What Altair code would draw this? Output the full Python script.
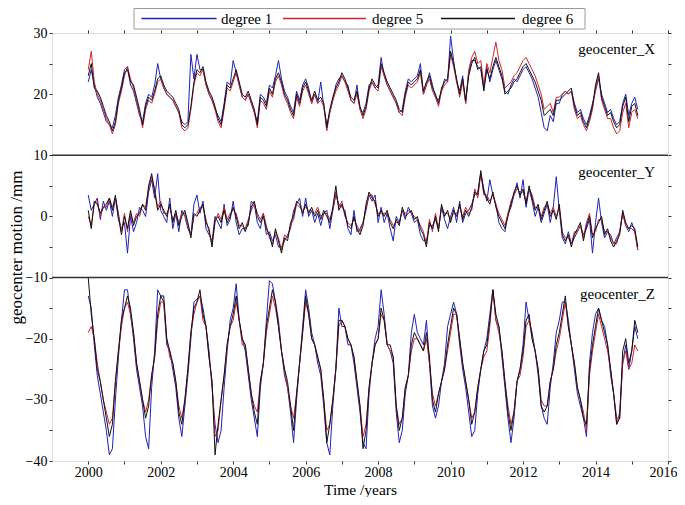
import altair as alt
import pandas as pd

# ---------------- data (monthly samples from 2000.0) ----------------
degrees = ["degree 1", "degree 5", "degree 6"]
colors = ["#1f22b8", "#d0232a", "#111111"]
panels = ["geocenter_X", "geocenter_Y", "geocenter_Z"]
start_year = 2000

x_deg1 = [22, 24, 21.5, 19.5, 18.5, 17, 15.5, 15, 14.5, 16.5, 19.5, 21.5,
          24, 24.5, 21.5, 20.5, 18.5, 16.5, 15.5, 18.5, 20, 19.5, 21.5, 25,
          22.5, 21, 20, 19.5, 19, 18, 17, 15.5, 15, 15.5, 26.5, 22.5,
          26.5, 24, 24, 21.5, 20, 19, 17.5, 16.5, 15.5, 18.5, 22, 21.5,
          25.5, 23.5, 21.5, 19.5, 19, 20, 18.5, 17, 15.5, 20, 19.5, 18.5,
          21.5, 21, 23, 25.5, 22.5, 20.5, 19.5, 18, 17, 20.5, 19, 21.5,
          22.5, 21, 18.5, 20, 18.5, 22, 18, 15, 17, 19, 21.5, 22.5,
          23, 22, 21.5, 19, 18.5, 21.5, 17.5, 17, 18.5, 21.5, 22, 21,
          21.5, 26, 23, 21.5, 20.5, 19.5, 18.5, 17, 17.5, 20.5, 22.5, 22,
          22.5, 23, 25, 20, 21.5, 23.5, 21.5, 19.5, 19, 20.5, 22.5, 22,
          29.5, 25.5, 22, 20.5, 23, 18.5, 23.5, 25.5, 25.5, 24.5, 24, 21,
          24.5, 22, 24, 25.5, 24, 22.5, 20.5, 20, 21.5, 22.5, 22, 23,
          24, 24.5, 23.5, 22.5, 21, 19.5, 17, 14.5, 14, 16.5, 15.5, 18.5,
          18.5, 20, 20.5, 20, 20.5, 18.5, 17, 17.5, 16, 15, 16.5, 18.5,
          20.5, 22.5, 20, 18.5, 17, 17.5, 16, 15, 15.5, 18.5, 20, 16.5,
          18.5, 19.5, 17.5]
x_deg5 = [24, 27, 22, 20, 19, 17.5, 16, 15, 13.5, 15, 18.5, 20.5,
          23, 24.5, 22.5, 21, 19, 17, 14.5, 17.5, 19, 18.5, 20, 22,
          22.5, 21, 20, 19.5, 19, 18, 17, 14.5, 14, 14.5, 17.5, 21.5,
          23.5, 23, 24, 21.5, 20, 19, 17.5, 15.5, 14.5, 17.5, 21, 20.5,
          22, 23.5, 21.5, 19.5, 19, 20, 18.5, 17, 14.5, 19, 18.5, 17.5,
          20.5, 19.5, 22, 23, 21.5, 19.5, 18.5, 17, 16, 19.5, 18, 20.5,
          21.5, 20, 18.5, 20, 18.5, 19, 18, 14, 17, 19, 20.5, 21.5,
          23, 22, 20.5, 19, 18.5, 20, 17.5, 16, 17.5, 20.5, 22, 21,
          20.5, 24.5, 23, 21.5, 20.5, 19.5, 18.5, 17, 16.5, 19.5, 21.5, 21,
          21.5, 22, 23.5, 20, 21.5, 22.5, 20.5, 19.5, 18, 20.5, 21.5, 22,
          26.5, 24.5, 22, 19.5, 22, 18.5, 24, 26, 27, 25, 25.5, 21.5,
          25, 23.5, 26, 28.5, 25.5, 24, 21, 21.5, 22, 23, 23.5, 24.5,
          25.5, 26, 25, 24, 23, 21.5, 20, 17.5, 18, 18.5, 17, 19.5,
          19.5, 20, 20.5, 20, 20.5, 17.5, 16, 16.5, 15, 14, 15.5, 17.5,
          21, 23, 19, 17.5, 16, 16, 14.5, 13.5, 14, 17, 18.5, 14.5,
          17, 17.5, 16]
x_deg6 = [23, 25, 21, 20.5, 19.5, 18, 16.5, 15.5, 14, 15.5, 19, 21,
          23.5, 24, 22, 21.5, 19.5, 17.5, 15, 18, 19.5, 19, 20.5, 22.5,
          23, 21.5, 20.5, 20, 19.5, 18.5, 17.5, 15, 14.5, 15, 18, 22,
          24, 23.5, 24.5, 22, 20.5, 19.5, 18, 16, 15, 18, 21.5, 21,
          22.5, 24, 22, 20, 19.5, 20.5, 19, 17.5, 15, 19.5, 19, 18,
          21, 20, 22.5, 23.5, 22, 20, 19, 17.5, 16.5, 20, 18.5, 21,
          22, 20.5, 19, 20.5, 19, 19.5, 18.5, 14.5, 17.5, 19.5, 21, 22,
          23.5, 22.5, 21, 19.5, 19, 20.5, 18, 16.5, 18, 21, 22.5, 21.5,
          21, 25, 23.5, 22, 21, 20, 19, 17.5, 17, 20, 22, 21.5,
          22, 22.5, 24, 20.5, 22, 23, 21, 20, 18.5, 21, 22, 22.5,
          27, 25, 22.5, 20, 22.5, 19, 23, 25, 26, 24, 24.5, 20.5,
          24, 22.5, 24.5, 26, 24.5, 23, 20, 20.5, 21, 22, 22.5, 23.5,
          24.5, 25, 24, 23, 22, 20.5, 19, 16.5, 17, 17.5, 16.5, 19,
          19, 19.5, 20, 20.5, 21, 18, 16.5, 17, 15.5, 14.5, 16, 18,
          21.5, 23.5, 19.5, 18, 16.5, 17, 15.5, 14.5, 15, 18, 19.5, 15.5,
          18, 18.5, 16.5]

y_deg1 = [3.5, 1, 2, 3, -0.5, 2.5, 1, 2.5, 0, 3, -0.5, -2,
          -1, -6, 0, -2.5, -1, 1.5, 1, 0, 4, 6, 3, 7,
          1, 0, -1, 3, -2, 0.5, -2.5, 1, 0, -2, -3, 2,
          3.5, 0.5, 2.5, -2, -3, -4, 0, -1, -2, 2, -1.5, -0.5,
          2.5, -1, -3, -2, -2, -1.5, 2.5, 2, -1, -2, 0.5, -3,
          -2.5, -4, -3, -5, -5, -4, -3, -2, 1, 2, 3, 0,
          3, 0, 1, -1, 0.5, -1.5, 0.5, 1, -2, 1, 3.5, 2,
          1.5, 1, -2, -3, 1, -2.5, -2, -1, 1, 3.5, 2.5, 3.5,
          -1, 1.5, -1, 0.5, -2, -4, 0, -1, 1, -0.5, 1.5, 0.5,
          -1, -0.5, -3, -4, -4, -1.5, -1.5, -0.5, -2, 1.5, -0.5, -2,
          0, 1.5, -1, 2.5, -1, 0.5, 1, 2, 3.5, 4, 7, 4.5,
          2.5, 6, 3.5, 2, -1, -2, -2.5, 0.5, 1.5, 3.5, 5.5, 3,
          6, 1.5, 4.5, 2.5, 0, 1.5, -1, 0.5, 2, -1, 1.5, 6.5,
          1, -3.5, -4.5, -2.5, -4.5, -3.5, -2.5, -1.5, -3, -2, -0.5, -6,
          -1, 3, -1, -3.5, -2.5, -3, -4.5, -3.5, -2.5, 0.5, -1.5, -2.5,
          -1, -2.5, -5.5]
y_deg5 = [0, -1.5, 2, 2.5, 0, 1.5, 1.5, 3, 1.5, 3, 0.5, -2.5,
          0.5, -2.5, 0.5, -1, 0.5, 0, 2, 1.5, 4.5, 6.5, 4.5, 1.5,
          2.5, 0.5, 0.5, 1.5, -0.5, 0.5, -1, 0.5, 0.5, -1.5, -3, 0,
          0.5, 1.5, 1.5, -0.5, -2.5, -4.5, -1, 0.5, -0.5, 1.5, -0.5, 0.5,
          1, 0.5, -1.5, -1.5, -2, -0.5, 1, 2, 0.5, -0.5, 0.5, -1.5,
          -3.5, -4.5, -2.5, -3.5, -5.5, -3, -3.5, -1.5, -0.5, 2, 1.5, 1,
          1.5, 1, 1, 0.5, 1.5, 0, 0.5, 0.5, -0.5, 1, 4, 1.5,
          2.5, 0, -1, -1.5, -0.5, -1.5, -2.5, -1, 1.5, 3.5, 3.5, 2,
          0.5, 0.5, 0.5, 0.5, -0.5, -1.5, -1, -1, 1, 0.5, 1, 0.5,
          0, -0.5, -1.5, -2.5, -4.5, -0.5, -2.5, 0.5, -2, 1.5, 0.5, 0.5,
          -0.5, 0.5, 0.5, 1.5, 0, 1.5, 0.5, 1, 4.5, 3, 7, 3.5,
          3.5, 2.5, 3.5, 2, 0.5, -0.5, -1.5, 0.5, 2.5, 3.5, 4.5, 4,
          4, 2.5, 4.5, 3.5, 1.5, 1.5, 0, 1.5, 2, 0.5, 1.5, 0,
          1.5, -2.5, -3.5, -3.5, -4.5, -2.5, -2.5, -1.5, -3.5, -1, 0.5, -3,
          -2.5, -0.5, -0.5, -2.5, -2.5, -3.5, -4.5, -4.5, -2.5, 0.5, -1.5, -2,
          -2, -2.5, -5.5]
y_deg6 = [1, -2, 2.5, 2, 0.5, 1.5, 2, 3, 1, 3.5, 0, -3,
          0, -2, 1, -1.5, 0, 0.5, 2, 1, 5, 7, 4, 1,
          2, 1, 0, 2, -1, 1, -1.5, 0, 1, -1, -3.5, 0.5,
          0, 1, 2, -1, -2, -5, -0.5, 0, -1, 1, -1, 0,
          1.5, 0, -2, -1, -2.5, -1, 1.5, 2.5, 0, -1, 0, -2,
          -3, -5, -2, -4, -6, -3.5, -4, -1, 0, 2.5, 2, 0.5,
          2, 0.5, 1.5, 0, 1, -0.5, 1, 0, -1, 1.5, 5, 1,
          2, 0.5, -1.5, -2, 0, -2, -3, -1.5, 2, 4, 3, 2.5,
          0, 1, 0, 1, -1, -2, -0.5, -1.5, 1.5, 0, 0.5, 1,
          -0.5, 0, -2, -3, -5, -1, -2, 0, -2.5, 2, 0, 1,
          -1, 1, 0, 2, -0.5, 1, 0, 1.5, 4, 3.5, 7.5, 4,
          3, 2, 4, 1.5, 0, -1, -2, 0, 2, 4, 5, 3.5,
          4.5, 2, 5, 3, 1, 2, -0.5, 1, 2.5, 0, 1, -0.5,
          2, -3, -4, -3, -5, -3, -2, -1, -4, -1.5, 0, -3.5,
          -2, -1, 0, -3, -2, -4, -5, -4, -3, 1, -1, -2,
          -1.5, -2, -5]

z_deg1 = [-13, -15, -21, -26, -29, -32, -35, -39, -38, -30, -23, -17,
          -12, -12, -16, -20, -25, -28, -31, -36, -38, -28, -22, -12,
          -13, -14, -21, -22, -25, -28, -33, -36, -31, -26, -20, -14,
          -13.5, -13, -15, -18, -22, -28, -34, -37, -35, -28, -22, -17,
          -15, -11, -17, -20, -22, -26, -30, -33, -36, -28, -24, -17,
          -10.5, -11, -14, -17, -22, -26, -28, -32, -37, -30, -24, -18,
          -12, -15, -19, -21, -24, -26, -31, -37, -39, -31, -25, -15,
          -18, -18, -21, -21, -24, -28, -32, -37, -38, -29, -24, -20,
          -18, -12, -16, -21, -22, -24, -32, -37, -35, -29, -26, -19,
          -16, -19, -20, -21, -17, -24, -31, -33, -31, -27, -24, -18,
          -16, -14, -16, -21, -25, -28, -32, -36, -35, -29, -25, -22,
          -20, -16, -12, -17, -18, -23, -28, -33, -37, -33, -27, -25,
          -21, -14, -17, -19, -22, -26, -31, -33, -34, -28, -24, -19,
          -17, -14, -14, -17, -21, -25, -29, -31, -33, -36, -24, -19,
          -16, -15, -17, -18, -21, -26, -29, -33, -33, -24, -21, -25,
          -22, -18, -20]
z_deg5 = [-19, -18, -20, -24, -27, -30, -32, -34, -33, -27, -22, -18,
          -15, -14, -16, -19, -24, -27, -30, -32, -30, -26, -23, -17,
          -14, -14, -20, -23, -24, -27, -31, -33, -30, -25, -19, -16,
          -14, -13, -17, -18, -23, -27, -36, -35, -30, -26, -21, -18,
          -17, -14, -17, -21, -21, -25, -29, -31, -32, -27, -24, -19,
          -16, -13, -15, -18, -22, -25, -28, -31, -33, -29, -24, -19,
          -14, -16, -20, -21, -23, -25, -30, -35, -34, -30, -25, -18,
          -17, -18, -20, -21, -23, -27, -31, -36, -34, -28, -24, -21,
          -20, -16, -17, -21, -22, -23, -31, -34, -33, -28, -26, -22,
          -20, -20, -21, -22, -20, -24, -29, -31, -29, -27, -25, -22,
          -19, -16, -16, -20, -24, -27, -30, -33, -32, -28, -25, -23,
          -22, -18, -12, -17, -19, -22, -27, -31, -34, -32, -27, -26,
          -23, -18, -17, -20, -22, -25, -30, -31, -31, -27, -25, -22,
          -20, -17, -14, -18, -21, -24, -28, -30, -32, -35, -26, -22,
          -19, -16, -18, -20, -22, -25, -29, -34, -32, -24, -22, -25,
          -24, -21, -22]
z_deg6 = [-10, -16, -20, -25, -27, -30, -33, -36, -34, -27, -22, -17,
          -15, -13, -15, -19, -24, -27, -30, -33, -31, -26, -23, -16,
          -13, -13, -20, -22, -24, -27, -32, -34, -30, -25, -19, -15,
          -14, -12, -16, -18, -23, -27, -39, -34, -30, -26, -21, -18,
          -16, -13, -17, -20, -21, -25, -29, -32, -34, -27, -24, -18,
          -15, -12, -14, -18, -22, -25, -27, -31, -35, -29, -24, -19,
          -13, -16, -20, -21, -23, -25, -30, -37, -34, -30, -25, -17,
          -17, -18, -20, -21, -23, -27, -31, -38, -35, -28, -24, -21,
          -20, -15, -17, -21, -21, -23, -31, -35, -33, -28, -26, -21,
          -19, -20, -21, -22, -19, -23, -30, -32, -29, -27, -25, -21,
          -18, -15, -16, -20, -24, -27, -30, -34, -32, -28, -25, -22,
          -21, -17, -12, -16, -18, -22, -27, -32, -35, -32, -27, -25,
          -22, -17, -16, -20, -22, -25, -31, -32, -31, -27, -25, -21,
          -19, -16, -13, -18, -21, -24, -28, -30, -33, -34, -25, -21,
          -18, -15, -17, -19, -21, -25, -29, -34, -33, -22, -20, -24,
          -22, -17, -19]

separators = [10, -10]
x_ticks = list(range(2000, 2017))
y_ticks = list(range(-40, 31, 5))

series = {
    ("geocenter_X", "degree 1"): x_deg1, ("geocenter_X", "degree 5"): x_deg5, ("geocenter_X", "degree 6"): x_deg6,
    ("geocenter_Y", "degree 1"): y_deg1, ("geocenter_Y", "degree 5"): y_deg5, ("geocenter_Y", "degree 6"): y_deg6,
    ("geocenter_Z", "degree 1"): z_deg1, ("geocenter_Z", "degree 5"): z_deg5, ("geocenter_Z", "degree 6"): z_deg6,
}
rows = []
for (panel, deg), vals in series.items():
    for i, v in enumerate(vals):
        rows.append({"t": start_year + i / 12.0, "v": v, "degree": deg, "panel": panel})
df = pd.DataFrame(rows)

FONT = "Liberation Serif"
xscale = alt.Scale(domain=[1999, 2016], nice=False, zero=False)
yscale = alt.Scale(domain=[-40, 30], nice=False, zero=False)
cscale = alt.Scale(domain=degrees, range=colors)

x_bottom = alt.Axis(
    orient="bottom", values=x_ticks, format="d", labelFlush=True, labelFlushOffset=9,
    labelExpr="datum.value % 2 == 0 ? datum.label : ''",
    tickSize=3, tickColor="#333", domain=False, grid=False,
    labelFont=FONT, labelFontSize=14, labelColor="black", labelPadding=1,
    title="Time /years", titleFont=FONT, titleFontSize=15.5, titleFontWeight="normal",
    titleColor="black", titleBaseline="alphabetic", titleY=33,
)
y_left = alt.Axis(
    orient="left", values=y_ticks, labelFlush=False,
    labelExpr="datum.value % 10 == 0 ? datum.label : ''",
    tickSize=3, tickColor="#333", domain=False, grid=False,
    labelFont=FONT, labelFontSize=14, labelColor="black", labelPadding=2,
    title="geocenter motion /mm", titleFont=FONT, titleFontSize=17, titleFontWeight="normal",
    titleColor="black", titlePadding=0,
)

layers = []
for k, deg in enumerate(degrees):
    enc_x = alt.X("t:Q", scale=xscale, axis=x_bottom if k == 0 else None)
    enc_y = alt.Y("v:Q", scale=yscale, axis=y_left if k == 0 else None)
    layers.append(
        alt.Chart(df).transform_filter(alt.datum.degree == deg)
        .mark_line(strokeWidth=1.0, clip=True)
        .encode(x=enc_x, y=enc_y,
                color=alt.Color("degree:N", scale=cscale, legend=None),
                detail="panel:N")
    )

rules = alt.Chart(pd.DataFrame({"y": separators})).mark_rule(color="#333", strokeWidth=1.4).encode(
    y=alt.Y("y:Q", scale=yscale,
            axis=alt.Axis(orient="right", values=y_ticks, labels=False, ticks=True, tickSize=3,
                          tickColor="#333", domain=False, grid=False, title=None))
)
top_ticks = alt.Chart(pd.DataFrame({"t": x_ticks})).mark_point(opacity=0).encode(
    x=alt.X("t:Q", scale=xscale,
            axis=alt.Axis(orient="top", values=x_ticks, labels=False, ticks=True, tickSize=3,
                          tickColor="#333", domain=False, grid=False, title=None))
)

# panel labels
label_y = [16, 139, 261]
texts = []
for name, py in zip(panels, label_y):
    texts.append(
        alt.Chart(pd.DataFrame({"label": [name]})).mark_text(
            align="right", baseline="middle", font=FONT, fontSize=15, color="black"
        ).encode(text="label:N", x=alt.value(603), y=alt.value(py))
    )

# legend box drawn above the plot
one = pd.DataFrame({"k": [0]})
leg_y = -14.5
leg_box = alt.Chart(one).mark_rect(fill="white", stroke="#9a9a9a", strokeWidth=1).encode(
    x=alt.value(82), x2=alt.value(533), y=alt.value(-24.5), y2=alt.value(-4)
)
leg_line_x = [(89.5, 164.5), (231, 314), (389, 463)]
leg_text_x = [169, 320, 470]
leg_layers = [leg_box]
for deg, col, (lx1, lx2), tx in zip(degrees, colors, leg_line_x, leg_text_x):
    leg_layers.append(
        alt.Chart(one).mark_rule(color=col, strokeWidth=1.3).encode(
            x=alt.value(lx1), x2=alt.value(lx2), y=alt.value(leg_y))
    )
    leg_layers.append(
        alt.Chart(pd.DataFrame({"label": [deg]})).mark_text(
            align="left", baseline="middle", font=FONT, fontSize=15, color="black"
        ).encode(text="label:N", x=alt.value(tx), y=alt.value(leg_y))
    )

chart = alt.layer(*layers, rules, top_ticks, *texts, *leg_layers).properties(
    width=616, height=428,
    autosize=alt.AutoSizeParams(type="none"),
    padding={"left": 44, "top": 25, "right": 9, "bottom": 36},
).configure_view(stroke="#333", strokeWidth=1.3).configure(background="white")

chart.save("out.html", embed_options={"renderer": "svg", "actions": False})
